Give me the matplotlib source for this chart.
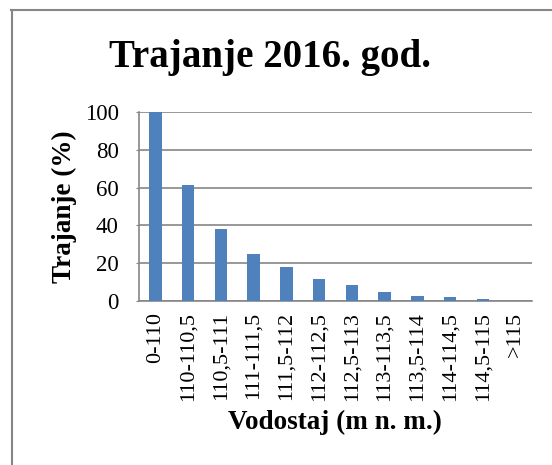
import matplotlib
matplotlib.use("Agg")
import matplotlib.pyplot as plt
from matplotlib.lines import Line2D

categories = ["0-110", "110-110,5", "110,5-111", "111-111,5", "111,5-112", "112-112,5",
              "112,5-113", "113-113,5", "113,5-114", "114-114,5", "114,5-115", ">115"]
values = [100, 61.3, 38.3, 25.1, 18.0, 11.5, 8.3, 4.6, 2.65, 1.9, 1.05, 0]
yticks = [0, 20, 40, 60, 80, 100]

plt.rcParams['font.family'] = ['Liberation Serif', 'DejaVu Serif']

fig = plt.figure(figsize=(5.52, 4.65), dpi=100)
W, H = 552, 465
ax = fig.add_axes([139 / W, 1 - 301 / H, (532 - 139) / W, (301 - 112) / H])

x = list(range(len(categories)))
ax.bar(x, values, width=0.38, color="#4F81BD", zorder=3)
ax.set_xlim(-0.5, len(categories) - 0.5)
ax.set_ylim(0, 100)
ax.set_yticks(yticks)
ax.set_yticklabels([str(v) for v in yticks], fontsize=16.5)
ax.set_xticks(x)
ax.set_xticklabels(categories, rotation=90, fontsize=16)
ax.tick_params(axis='x', length=0, pad=8)
ax.tick_params(axis='y', length=2, color="#868686", pad=12.5)
ax.grid(axis='y', color="#868686", linewidth=1.2, zorder=0)
for s in ['top', 'right']:
    ax.spines[s].set_visible(False)
ax.spines['left'].set_color("#868686")
ax.spines['bottom'].set_color("#868686")
ax.spines['left'].set_linewidth(1.2)
ax.spines['bottom'].set_linewidth(1.2)

fig.text(64 / W, 1 - 207 / H, "Trajanje (%)", fontsize=19.5, fontweight='bold',
         ha='center', va='center', rotation=90)
fig.text(335 / W, 1 - 422 / H, "Vodostaj (m n. m.)", fontsize=19.5, fontweight='bold',
         ha='center', va='center')
fig.text(270 / W, 1 - 57 / H, "Trajanje 2016. god.", fontsize=28, fontweight='bold',
         ha='center', va='center')

# chart border (left and top only visible)
fig.add_artist(Line2D([11.5 / W, 11.5 / W], [0, 1 - 10.5 / H], transform=fig.transFigure,
                      color="#868686", linewidth=1.5))
fig.add_artist(Line2D([11 / W, 1], [1 - 10.5 / H, 1 - 10.5 / H], transform=fig.transFigure,
                      color="#868686", linewidth=1.5))

fig.savefig("out.png", dpi=100)
